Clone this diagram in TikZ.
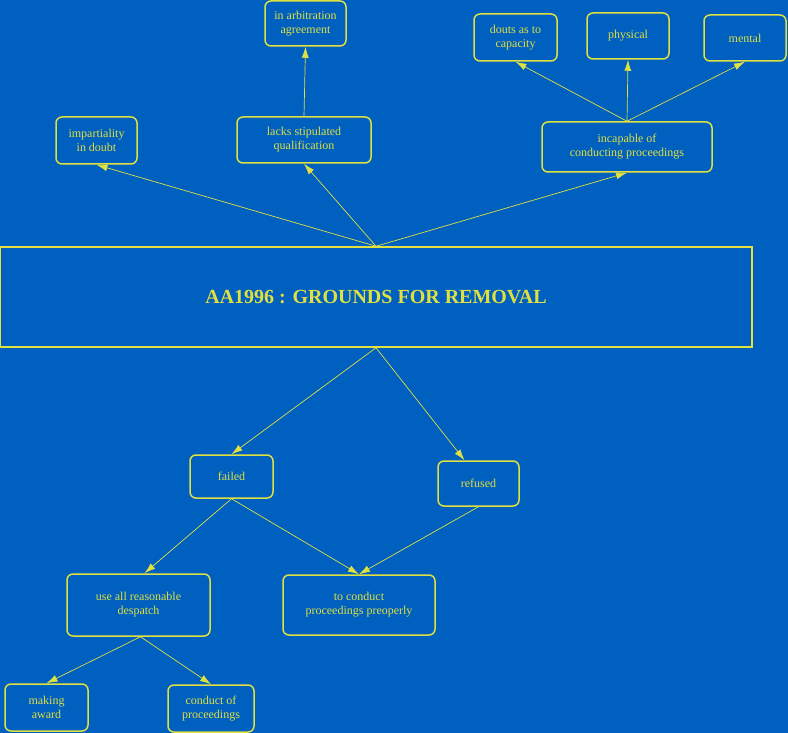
\documentclass[tikz,border=0pt]{standalone}
\usepackage{fontspec}
\setmainfont{Liberation Serif}
\usetikzlibrary{arrows.meta}
\definecolor{bg}{HTML}{0060C0}
\definecolor{yl}{HTML}{E0E040}
\begin{document}
\begin{tikzpicture}[x=1pt,y=-1pt,
 box/.style={draw=yl,line width=1.5pt,rounded corners=6pt,text=yl,font=\fontsize{12}{14}\selectfont,align=center,inner sep=0pt},
 arr/.style={draw=yl,line width=0.7pt,-{Latex[length=11pt,width=7pt]}}]
\fill[bg] (0,0) rectangle (788,733);
\useasboundingbox (0,0) rectangle (788,733);
\node[box,minimum width=81pt,minimum height=45pt] (arb) at (305.5,23.5) {in arbitration\\agreement};
\node[box,minimum width=81pt,minimum height=47pt] (imp) at (96.5,140.5) {impartiality\\in doubt};
\node[box,minimum width=134pt,minimum height=46pt] (lacks) at (304,140) {lacks stipulated\\qualification};
\node[box,minimum width=83pt,minimum height=47pt] (douts) at (515.5,37.5) {douts as to\\capacity};
\node[box,minimum width=82pt,minimum height=46pt] (phys) at (628,36) {physical};
\node[box,minimum width=82pt,minimum height=46pt] (ment) at (745,38) {mental};
\node[box,minimum width=170pt,minimum height=50pt] (incap) at (627,147) {incapable of\\conducting proceedings};
\node[draw=yl,line width=1.5pt,text=yl,minimum width=752pt,minimum height=100pt,inner sep=0pt,font=\bfseries\fontsize{20}{24}\selectfont] (main) at (376,297) {AA1996 : GROUNDS FOR REMOVAL};
\node[box,minimum width=83pt,minimum height=43pt] (failed) at (231.5,476.5) {failed};
\node[box,minimum width=81pt,minimum height=45pt] (ref) at (478.5,483.5) {refused};
\node[box,minimum width=143pt,minimum height=62pt] (use) at (138.5,605) {use all reasonable\\despatch};
\node[box,minimum width=152pt,minimum height=60pt] (cond) at (359,605) {to conduct\\proceedings preoperly};
\node[box,minimum width=83pt,minimum height=47pt] (mak) at (46.5,707.5) {making\\award};
\node[box,minimum width=86pt,minimum height=47pt] (cof) at (211,708.5) {conduct of\\proceedings};
\draw[arr] (main.north) -- (imp.south);
\draw[arr] (main.north) -- (lacks.south);
\draw[arr] (main.north) -- (incap.south);
\draw[arr] (lacks.north) -- (arb.south);
\draw[arr] (incap.north) -- (douts.south);
\draw[arr] (incap.north) -- (phys.south);
\draw[arr] (incap.north) -- (ment.south);
\draw[arr] (main.south) -- (failed.north);
\draw[arr] (main.south) -- ([xshift=-14pt]ref.north);
\draw[arr] (failed.south) -- ([xshift=6pt]use.north);
\draw[arr] (failed.south) -- (cond.north);
\draw[arr] (ref.south) -- (cond.north);
\draw[arr] ([xshift=2pt]use.south) -- (mak.north);
\draw[arr] ([xshift=2pt]use.south) -- (cof.north);
\end{tikzpicture}
\end{document}
